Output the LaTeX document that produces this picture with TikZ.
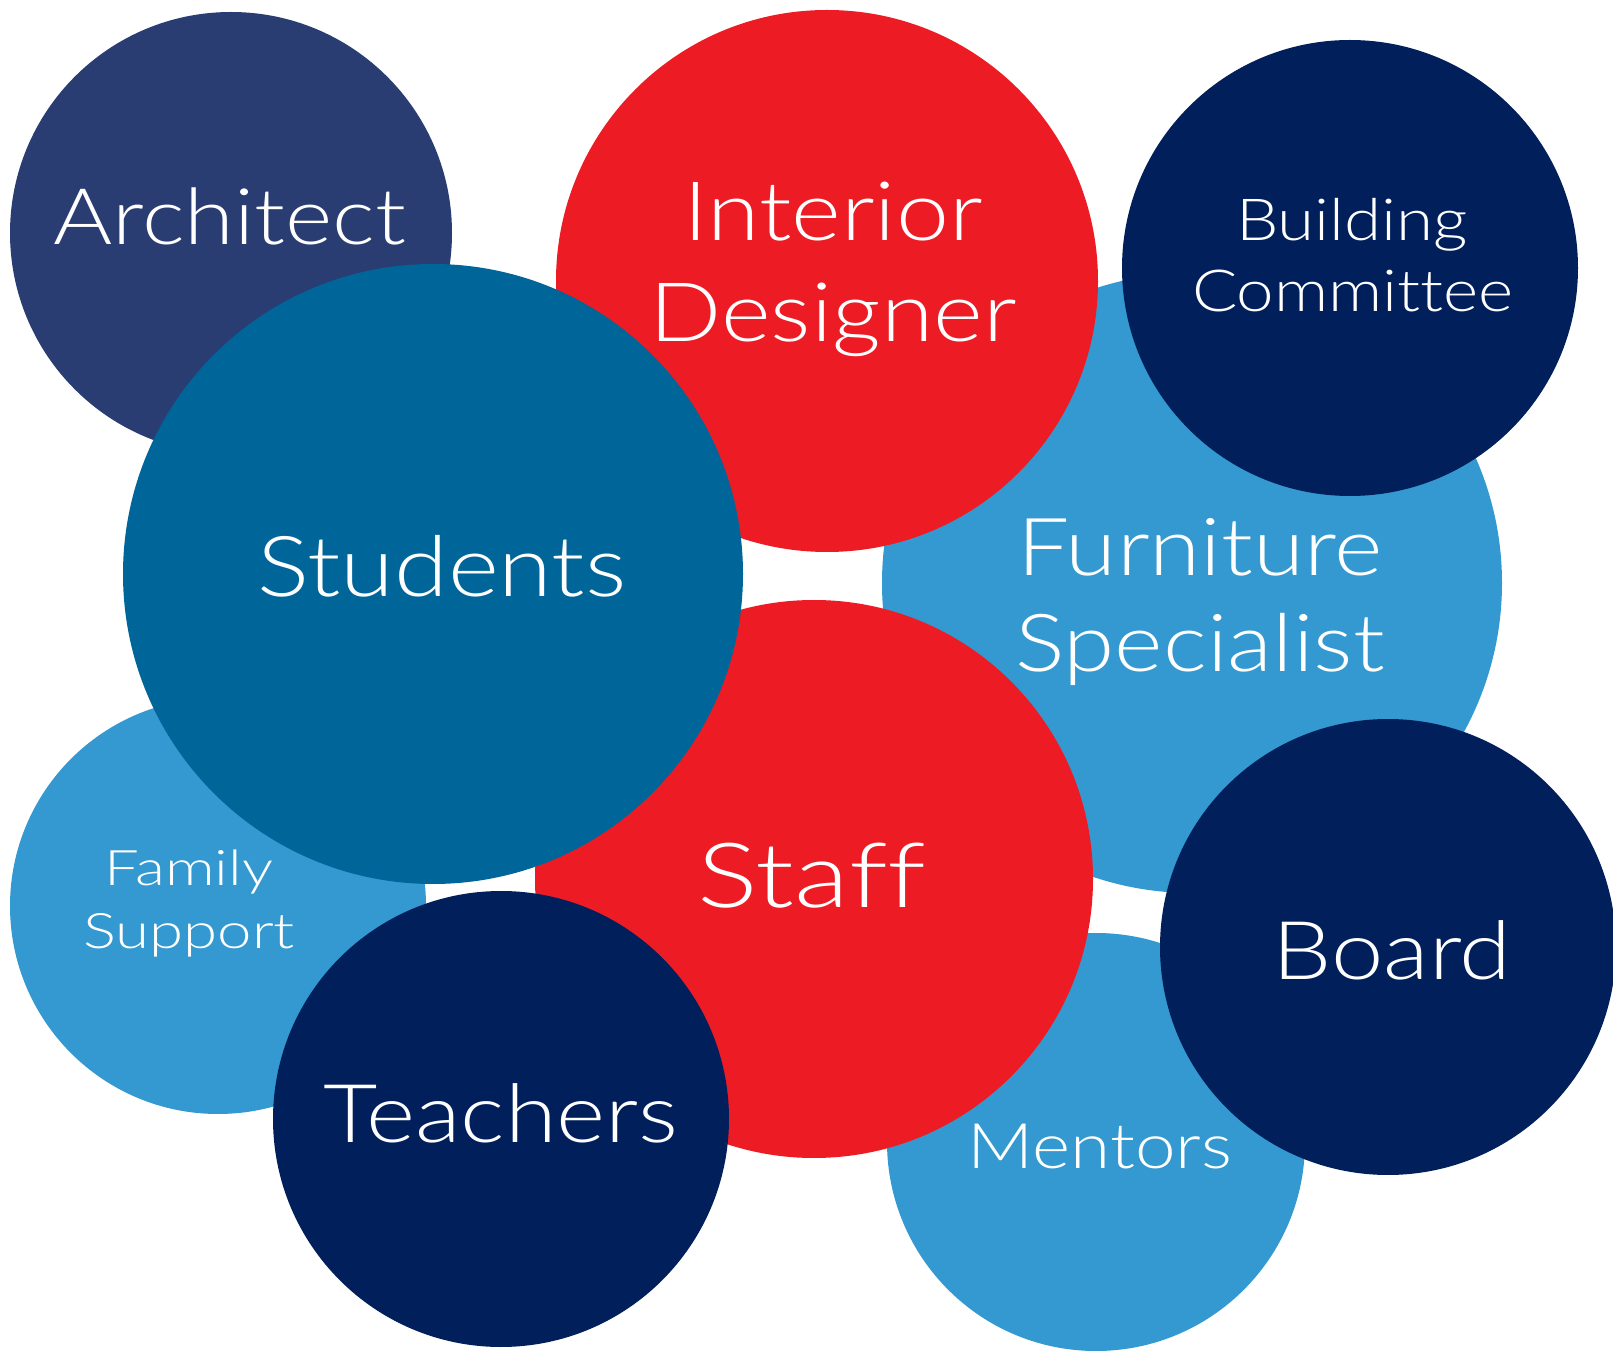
\documentclass[tikz,border=0pt]{standalone}
\usepackage{fontspec}
\setmainfont{Lato Light}[Ligatures=NoCommon,FakeStretch=1.16]
\definecolor{archnavy}{RGB}{41,61,115}
\definecolor{deepnavy}{RGB}{0,31,91}
\definecolor{brightred}{RGB}{237,28,36}
\definecolor{midblue}{RGB}{0,101,153}
\definecolor{lightblue}{RGB}{51,153,208}
\newcommand{\myfs}[1]{\fontsize{#1}{#1}\selectfont}
\begin{document}
\begin{tikzpicture}[x=0.5pt,y=-0.5pt,
  bubble/.style={circle,inner sep=0pt,draw=none},
  lbl/.style={anchor=base,text=white,inner sep=0pt}]
\useasboundingbox[fill=white] (0,0) rectangle (1613,1352);
\clip (0,0) rectangle (1613,1352);
% circles, back to front
\node[bubble,fill=archnavy,minimum size=221pt] (arch) at (231,233) {};
\node[bubble,fill=lightblue,minimum size=310pt] (furn) at (1192,583) {};
\node[bubble,fill=brightred,minimum size=271pt] (inter) at (827,281) {};
\node[bubble,fill=lightblue,minimum size=208pt] (fam) at (218,906) {};
\node[bubble,fill=lightblue,minimum size=209pt] (ment) at (1096,1142) {};
\node[bubble,fill=brightred,minimum size=279pt] (staff) at (814,879) {};
\node[bubble,fill=midblue,minimum size=310pt] (stud) at (433,574) {};
\node[bubble,fill=deepnavy,minimum size=228pt] (build) at (1350,268) {};
\node[bubble,fill=deepnavy,minimum size=228pt] (board) at (1388,947) {};
\node[bubble,fill=deepnavy,minimum size=228pt] (teach) at (501,1119) {};
% labels
\node[lbl] (tarch) at (230,245) {\myfs{39}Architect};
\node[lbl] (tinter1) at (833,241) {\myfs{41}Interior};
\node[lbl] (tinter2) at (833,342) {\myfs{41}Designer};
\node[lbl] (tbuild1) at (1352,241) {\myfs{29}Building};
\node[lbl] (tbuild2) at (1353,312) {\myfs{29}Committee};
\node[lbl] (tfurn1) at (1200,576) {\myfs{40}Furniture};
\node[lbl] (tfurn2) at (1200,672) {\myfs{40}Specialist};
\node[lbl] (tstud) at (442,597) {\myfs{42}Students};
\node[lbl] (tstaff) at (812,907) {\myfs{45}\addfontfeature{FakeStretch=1.26}Staff};
\node[lbl] (tfam1) at (189,885) {\myfs{24.5}\addfontfeature{FakeStretch=1.26}Family};
\node[lbl] (tfam2) at (189,948) {\myfs{24.5}\addfontfeature{FakeStretch=1.26}Support};
\node[lbl] (tteach) at (501,1142) {\myfs{40.5}Teachers};
\node[lbl] (tment) at (1100,1168) {\myfs{31.4}Mentors};
\node[lbl] (tboard) at (1392,979) {\myfs{40.5}Board};
\end{tikzpicture}
\end{document}
